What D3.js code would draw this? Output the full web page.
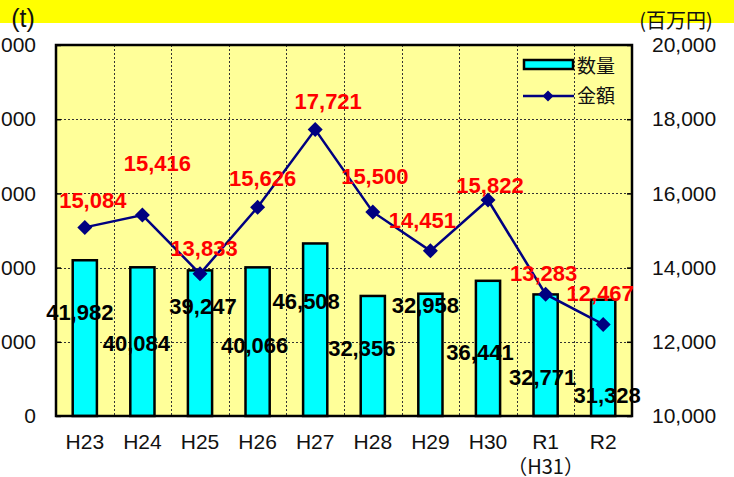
<!DOCTYPE html>
<html>
<head>
<meta charset="utf-8">
<script src="https://cdn.jsdelivr.net/npm/d3@7"></script>
<style>
  body { margin: 0; background: #fff; }
  svg { display: block; font-family: 'Liberation Sans', Arial, 'Noto Sans CJK JP', sans-serif; }
</style>
</head>
<body>
<svg id="chart" width="734" height="477"></svg>
<script>
const categories = ['H23', 'H24', 'H25', 'H26', 'H27', 'H28', 'H29', 'H30', 'R1', 'R2']
const subLabels = ['', '', '', '', '', '', '', '', '（H31）', '']
const quantity = [41982, 40084, 39247, 40066, 46508, 32356, 32958, 36441, 32771, 31328]
const amount = [15084, 15416, 13833, 15626, 17721, 15500, 14451, 15822, 13283, 12467]
const leftTicks = [0, 20000, 40000, 60000, 80000, 100000]
const rightTicks = [10000, 12000, 14000, 16000, 18000, 20000]

// hand-placed data labels (like the moved Excel labels), offsets in px
const qtyLabelNudge = [[-5, 52], [-6, 76], [3, 36], [-3, 78], [-9, 58], [-11, 52], [-5, 11], [-8, 71], [-3, 83], [4, 95]]
const amtLabelNudge = [[8, -27], [15, -52], [4, -26], [5, -29], [13, -28], [2, -36], [-8, -31], [2, -15], [-2, -21], [-3, -31]]

const plotLeft = 56
const plotRight = 632
const plotTop = 45
const plotBottom = 416

const svg = d3.select('#chart')
const fmt = d3.format(',')

// yellow band at the top
svg.append('rect')
  .attr('x', 0).attr('y', 0)
  .attr('width', 734).attr('height', 23)
  .attr('fill', '#ffff00')

const x = d3.scaleBand().domain(categories).range([plotLeft, plotRight]).padding(0)
const yL = d3.scaleLinear().domain([0, 100000]).range([plotBottom, plotTop])
const yR = d3.scaleLinear().domain([10000, 20000]).range([plotBottom, plotTop])

svg.append('rect')
  .attr('x', plotLeft).attr('y', plotTop)
  .attr('width', plotRight - plotLeft).attr('height', plotBottom - plotTop)
  .attr('fill', '#ffff99')

// grid
const grid = svg.append('g')
  .attr('stroke', '#333')
  .attr('stroke-width', 1)
  .attr('stroke-dasharray', '2,2')
grid.selectAll('.h')
  .data(leftTicks.slice(1, -1))
  .join('line')
  .attr('x1', plotLeft).attr('x2', plotRight)
  .attr('y1', (d) => Math.round(yL(d)) + 0.5).attr('y2', (d) => Math.round(yL(d)) + 0.5)
grid.selectAll('.v')
  .data(categories.slice(1))
  .join('line')
  .attr('x1', (d) => Math.round(x(d)) + 0.5).attr('x2', (d) => Math.round(x(d)) + 0.5)
  .attr('y1', plotTop).attr('y2', plotBottom)

// bars
const barW = x.bandwidth() * 0.42
svg.append('g')
  .selectAll('rect')
  .data(quantity)
  .join('rect')
  .attr('x', (d, i) => x(categories[i]) + (x.bandwidth() - barW) / 2)
  .attr('y', (d) => yL(d))
  .attr('width', barW)
  .attr('height', (d) => plotBottom - yL(d))
  .attr('fill', '#00ffff')
  .attr('stroke', '#000')
  .attr('stroke-width', 2.5)

// line
const cx = (i) => x(categories[i]) + x.bandwidth() / 2
const line = d3.line()
  .x((d, i) => cx(i))
  .y((d) => yR(d))
svg.append('path')
  .datum(amount)
  .attr('fill', 'none')
  .attr('stroke', '#000080')
  .attr('stroke-width', 2.5)
  .attr('d', line)

const diamond = (r) => `M0,${-r}L${r},0L0,${r}L${-r},0Z`
svg.append('g')
  .selectAll('path')
  .data(amount)
  .join('path')
  .attr('transform', (d, i) => `translate(${cx(i)},${yR(d)})`)
  .attr('d', diamond(7.5))
  .attr('fill', '#000080')

// frame
svg.append('rect')
  .attr('x', plotLeft).attr('y', plotTop)
  .attr('width', plotRight - plotLeft).attr('height', plotBottom - plotTop)
  .attr('fill', 'none')
  .attr('stroke', '#000')
  .attr('stroke-width', 2.5)

// axes
const axisL = svg.append('g')
  .attr('transform', `translate(${plotLeft},0)`)
  .call(d3.axisLeft(yL).tickValues(leftTicks).tickSize(-5).tickPadding(20).tickFormat(fmt))
const axisR = svg.append('g')
  .attr('transform', `translate(${plotRight},0)`)
  .call(d3.axisRight(yR).tickValues(rightTicks).tickSize(-5).tickPadding(20).tickFormat(fmt))
for (const a of [axisL, axisR]) {
  a.select('.domain').remove()
  a.selectAll('line').attr('stroke', '#000').attr('stroke-width', 1.5)
  a.selectAll('text')
    .attr('font-size', 21)
    .attr('fill', '#111')
    .attr('font-family', 'Liberation Sans, Arial, sans-serif')
}

const axisX = svg.append('g')
  .attr('transform', `translate(0,${plotBottom})`)
  .call(d3.axisBottom(x).tickSize(0).tickPadding(18))
axisX.select('.domain').remove()
axisX.selectAll('text')
  .attr('font-size', 21)
  .attr('fill', '#111')
svg.append('g')
  .selectAll('text')
  .data(subLabels)
  .join('text')
  .attr('x', (d, i) => cx(i))
  .attr('y', 474)
  .attr('text-anchor', 'middle')
  .attr('font-size', 20)
  .attr('fill', '#111')
  .attr('font-family', 'Noto Sans CJK JP, sans-serif')
  .text((d) => d)

// unit labels
svg.append('text')
  .attr('x', 23).attr('y', 27)
  .attr('text-anchor', 'middle')
  .attr('font-size', 25)
  .attr('fill', '#111')
  .text('(t)')
svg.append('text')
  .attr('x', 676).attr('y', 28)
  .attr('text-anchor', 'middle')
  .attr('font-size', 20)
  .attr('fill', '#111')
  .attr('font-family', 'Noto Sans CJK JP, sans-serif')
  .text('(百万円)')

// data labels
svg.append('g')
  .selectAll('text')
  .data(quantity)
  .join('text')
  .attr('x', (d, i) => cx(i) + qtyLabelNudge[i][0])
  .attr('y', (d, i) => yL(d) + qtyLabelNudge[i][1])
  .attr('dy', '0.36em')
  .attr('text-anchor', 'middle')
  .attr('font-size', 22)
  .attr('font-weight', 'bold')
  .attr('fill', '#000')
  .text((d) => fmt(d))

svg.append('g')
  .selectAll('text')
  .data(amount)
  .join('text')
  .attr('x', (d, i) => cx(i) + amtLabelNudge[i][0])
  .attr('y', (d, i) => yR(d) + amtLabelNudge[i][1])
  .attr('dy', '0.36em')
  .attr('text-anchor', 'middle')
  .attr('font-size', 22)
  .attr('font-weight', 'bold')
  .attr('fill', '#ff0000')
  .text((d) => fmt(d))

// legend
const legend = svg.append('g')
legend.append('rect')
  .attr('x', 524).attr('y', 60)
  .attr('width', 49).attr('height', 9)
  .attr('fill', '#00ffff')
  .attr('stroke', '#000')
  .attr('stroke-width', 2.5)
legend.append('line')
  .attr('x1', 523).attr('x2', 574)
  .attr('y1', 96).attr('y2', 96)
  .attr('stroke', '#000080')
  .attr('stroke-width', 2.5)
legend.append('path')
  .attr('transform', 'translate(548,96)')
  .attr('d', diamond(5.5))
  .attr('fill', '#000080')
legend.selectAll('.lt')
  .data(['数量', '金額'])
  .join('text')
  .attr('x', 577)
  .attr('y', (d, i) => 66 + i * 30)
  .attr('dy', '0.36em')
  .attr('font-size', 19)
  .attr('fill', '#111')
  .attr('font-family', 'Noto Sans CJK JP, sans-serif')
  .text((d) => d)
</script>
</body>
</html>
